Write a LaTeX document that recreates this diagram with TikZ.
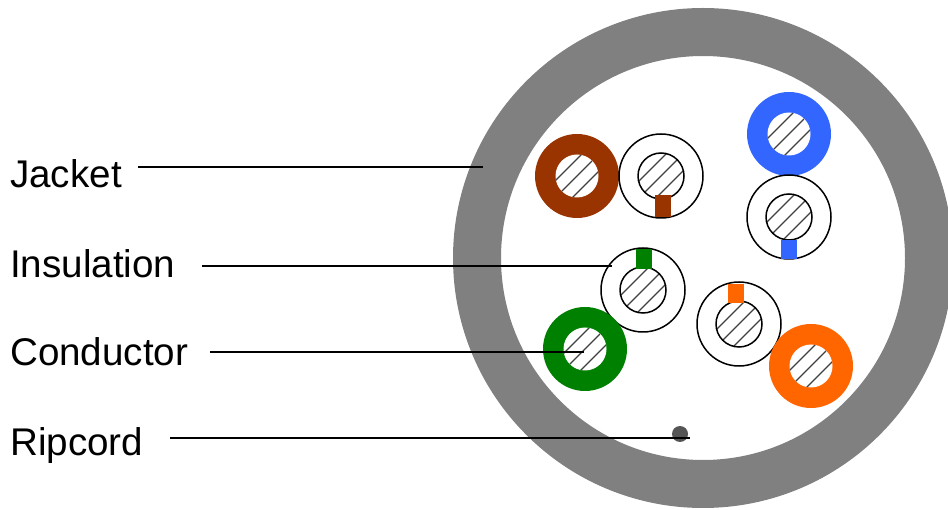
\documentclass[tikz,border=0pt]{standalone}
\usepackage{fontspec}
\setmainfont{Liberation Sans}
\definecolor{jacketgray}{HTML}{808080}
\definecolor{wbrown}{HTML}{993300}
\definecolor{wblue}{HTML}{3366FF}
\definecolor{wgreen}{HTML}{008000}
\definecolor{worange}{HTML}{FF6600}
\definecolor{cordgray}{HTML}{555555}
\newcommand{\hatchcore}[3]{%
  \begin{scope}
    \clip (#1,#2) circle (#3);
    \foreach \o in {-51,-34,-17,0,17,34,51}
      \draw[hatchline] (#1-35+\o,#2+35) -- (#1+35+\o,#2-35);
  \end{scope}}
% solid coloured wire: centre x, y, colour, name
\newcommand{\solidwire}[4]{%
  \node[ringshape, fill=#3] (#4) at (#1,#2) {};
  \fill[white] (#1,#2) circle (21.5);
  \hatchcore{#1}{#2}{21.5}}
% striped wire: centre x, y, colour, name, stripe y top, stripe y bottom, stripe x left
\newcommand{\stripewire}[7]{%
  \node[ringshape, fill=white, draw=black, line width=1.5pt] (#4) at (#1,#2) {};
  \hatchcore{#1}{#2}{23}
  \draw[black, line width=1.5pt] (#1,#2) circle (23);
  \fill[#3] (#7,#5) rectangle (#7+16,#6);}
\tikzset{
  x=1pt,y=-1pt,
  ringshape/.style={circle, minimum size=84pt, inner sep=0pt, outer sep=0pt},
  hatchline/.style={draw=black!75, line width=1.1pt},
  leader/.style={draw=black, line width=1.3pt},
  lab/.style={anchor=base west, inner sep=0pt, font=\fontsize{38.6}{38.6}\selectfont},
}
\begin{document}
\begin{tikzpicture}
\useasboundingbox (0,0) rectangle (948,510);
\fill[white] (0,0) rectangle (948,510);
\node[circle, minimum size=452pt, inner sep=0pt, outer sep=0pt, fill=white, draw=jacketgray, line width=48pt] (jacket) at (703,258) {};

\solidwire{577}{176}{wbrown}{brownwire}
\stripewire{661}{176}{wbrown}{brownwhite}{195}{217}{655}
\solidwire{789}{134}{wblue}{bluewire}
\stripewire{789}{217}{wblue}{bluewhite}{240}{259}{781}
\stripewire{643}{290}{wgreen}{greenwhite}{249}{269}{636}
\solidwire{585}{349}{wgreen}{greenwire}
\stripewire{739}{324}{worange}{orangewhite}{284}{303}{728}
\solidwire{811}{366}{worange}{orangewire}
\node[circle, minimum size=16pt, inner sep=0pt, fill=cordgray] (cord) at (680,434) {};

\node[lab] (ljacket) at (10,188) {Jacket};
\node[lab] (linsul) at (10,278) {Insulation};
\node[lab] (lcond) at (10,366) {Conductor};
\node[lab] (lrip) at (10,455) {Ripcord};

\coordinate (ejacket) at (483,167);
\coordinate (einsul) at (612,266);
\coordinate (econd) at (584,352);
\coordinate (erip) at (690,438);
\draw[leader] (ljacket.east |- ejacket) ++(16,0) -- (ejacket);
\draw[leader] (linsul.east |- einsul) ++(26,0) -- (einsul);
\draw[leader] (lcond.east |- econd) ++(22,0) -- (econd);
\draw[leader] (lrip.east |- erip) ++(27,0) -- (erip);
\end{tikzpicture}
\end{document}
